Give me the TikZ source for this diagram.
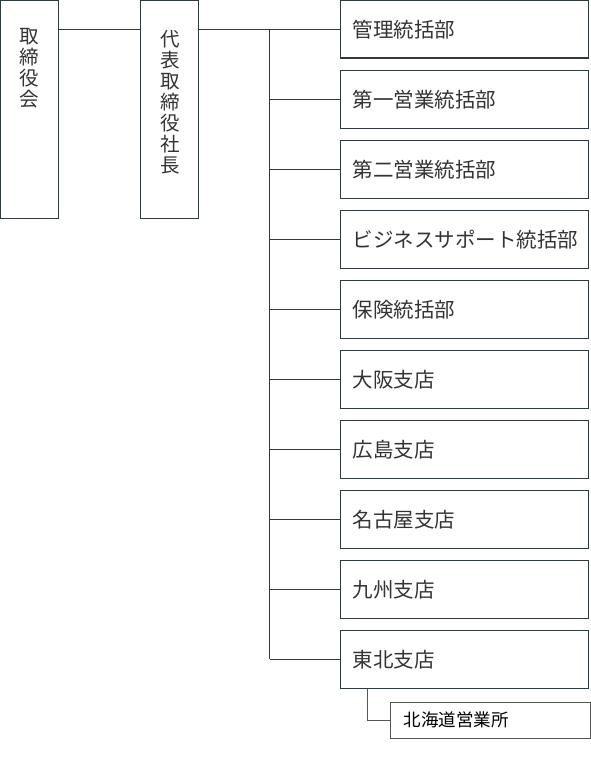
\documentclass[tikz,border=0pt]{standalone}
\usepackage{fontspec}
\setmainfont{Noto Sans CJK JP}
\usetikzlibrary{positioning}
\definecolor{linegray}{HTML}{2E3A3E}
\definecolor{textgray}{HTML}{333333}
\definecolor{subgray}{HTML}{555555}
\tikzset{
  tallbox/.style={draw=linegray, line width=1.2pt, anchor=north west,
    minimum width=58pt, minimum height=217.5pt, inner sep=0pt},
  tatetext/.style={anchor=north, align=center, inner sep=0pt, text=textgray,
    font=\fontsize{19.5}{21}\selectfont},
  unitbox/.style={draw=linegray, line width=1.2pt, fill=white, anchor=north west,
    text width=224pt, inner xsep=12pt, inner ysep=0pt, minimum height=57.5pt,
    text=textgray, font=\fontsize{20.5}{22}\selectfont},
  subbox/.style={draw=subgray, line width=1pt, fill=white, anchor=north west,
    text width=174pt, inner xsep=13pt, inner ysep=0pt, minimum height=35.5pt,
    text=black, font=\fontsize{17.5}{18}\selectfont},
  conn/.style={draw=linegray, line width=1.1pt},
  subconn/.style={draw=subgray, line width=1pt}
}
\begin{document}
\begin{tikzpicture}[x=1pt,y=-1pt]
\useasboundingbox (0,0) rectangle (590,760);
% board and president
\node[tallbox] (board) at (0,0) {};
\node[tatetext] (boardtxt) at (29.5,28) {取\\締\\役\\会};
\node[tallbox] (ceo) at (140,0) {};
\node[tatetext] (ceotxt) at (170,30) {代\\表\\取\\締\\役\\社\\長};
% divisions
\foreach \dept [count=\i from 0] in {管理統括部,第一営業統括部,第二営業統括部,
    ビジネスサポート統括部,保険統括部,大阪支店,広島支店,名古屋支店,九州支店,東北支店}
  \node[unitbox] (d\i) at (340,{70*\i}) {\dept};
\node[subbox] (hokkaido) at (390,702) {北海道営業所};
\coordinate (trunk) at (269.5,0);
\coordinate (subx) at (367.5,0);
\draw[conn] (board.east |- d0.west) -- (ceo.west |- d0.west);
\draw[conn] (ceo.east |- d0.west) -- (d0.west);
\draw[conn] (trunk |- d0.west) -- (trunk |- d9.west);
\foreach \i in {1,...,9}
  \draw[conn] (trunk |- d\i.west) -- (d\i.west);
\draw[subconn] (subx |- d9.south) |- (hokkaido.west);
\end{tikzpicture}
\end{document}
